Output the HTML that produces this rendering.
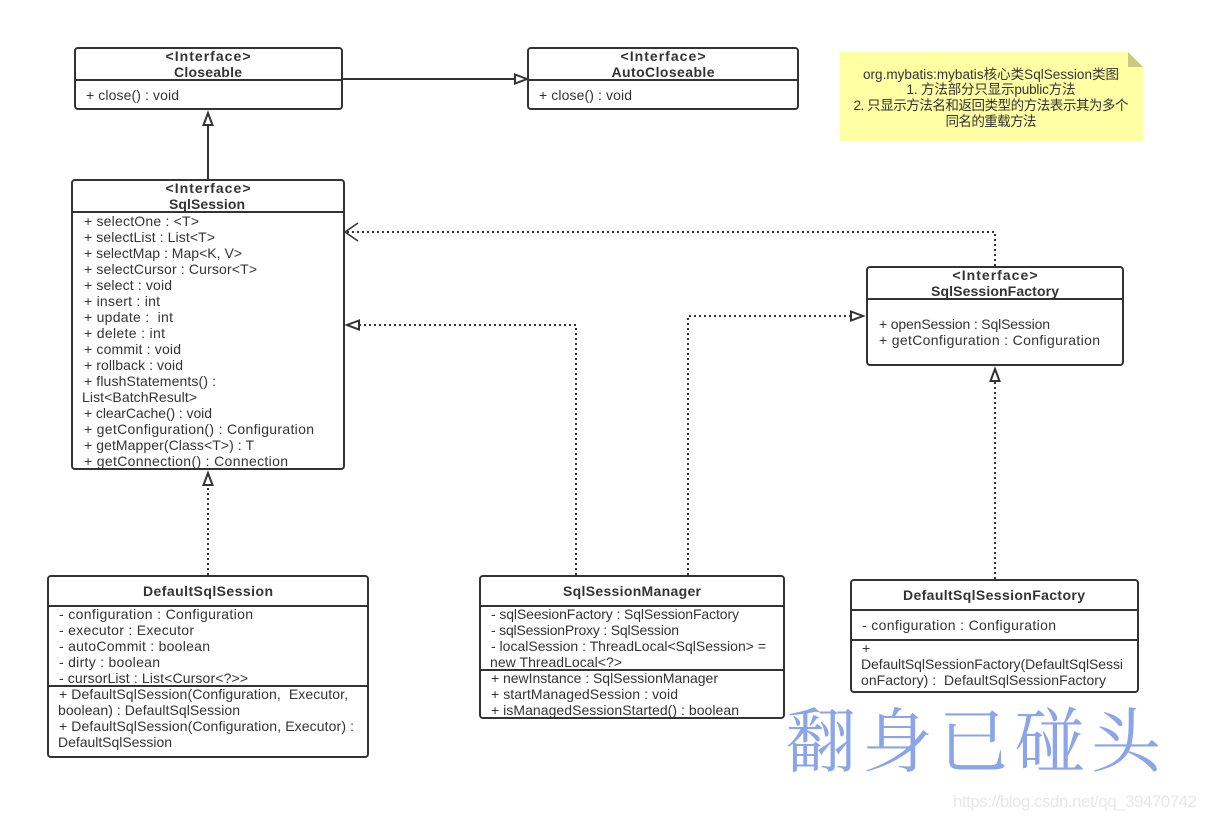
<!DOCTYPE html>
<html><head><meta charset="utf-8"><style>
html,body{margin:0;padding:0;background:#fff;width:1206px;height:819px;overflow:hidden}
svg{display:block}
text{font-family:"Liberation Sans","Noto Sans CJK SC",sans-serif;fill:#333;font-size:14px}
.t{font-weight:bold;font-size:14px;text-anchor:middle}
.b{fill:#fff;stroke:#333;stroke-width:2}
.l{stroke:#333;stroke-width:2;fill:none}
.d{stroke:#333;stroke-width:2;fill:none;stroke-dasharray:2 3}
.a{stroke:#333;stroke-width:2;fill:#fff}
.n{font-size:13.5px;fill:#333;text-anchor:middle}
</style></head><body>
<svg width="1206" height="819" viewBox="0 0 1206 819" xmlns="http://www.w3.org/2000/svg">
<!-- connectors -->
<path class="l" d="M342 79H516"/><path class="a" d="M515 74.500L527 79L515 83.500Z"/>
<path class="l" d="M208 180V125"/><path class="a" d="M203.500 125L208 113L212.500 125Z"/>
<path class="d" d="M208 575V487"/><path class="a" d="M203.500 485L208 473L212.500 485Z"/>
<path class="d" d="M995 266V232H347"/><path class="l" d="M358 223L345 232L358 241" style="stroke-width:1.600"/>
<path class="d" d="M576 575V325H360"/><path class="a" d="M359 320.500L347 325L359 329.500Z"/>
<path class="d" d="M688 575V316H850"/><path class="a" d="M851 311.500L863 316L851 320.500Z"/>
<path class="d" d="M995 579V382"/><path class="a" d="M990.500 381L995 369L999.500 381Z"/>
<!-- Closeable -->
<rect class="b" x="75" y="48" width="267" height="61" rx="3"/><path class="l" d="M75 80H342"/>
<text class="t" x="208" y="61" textLength="85">&lt;Interface&gt;</text>
<text class="t" x="208" y="77" textLength="68">Closeable</text>
<text x="86" y="100" textLength="93">+ close() : void</text>
<!-- AutoCloseable -->
<rect class="b" x="528" y="48" width="270" height="61" rx="3"/><path class="l" d="M528 80H798"/>
<text class="t" x="663" y="61" textLength="85">&lt;Interface&gt;</text>
<text class="t" x="663" y="77" textLength="103">AutoCloseable</text>
<text x="539" y="100" textLength="93">+ close() : void</text>
<!-- Note -->
<path d="M840 52H1128L1143 67V141H840Z" fill="#ffffa3"/><path d="M1128 52L1143 67H1128Z" fill="#c9c97c"/>
<text class="n" x="991" y="79" textLength="256">org.mybatis:mybatis核心类SqlSession类图</text>
<text class="n" x="991" y="94" textLength="169">1. 方法部分只显示public方法</text>
<text class="n" x="991" y="110" textLength="275">2. 只显示方法名和返回类型的方法表示其为多个</text>
<text class="n" x="991" y="126" textLength="91">同名的重载方法</text>
<!-- SqlSession -->
<rect class="b" x="72" y="180" width="272" height="289" rx="3"/><path class="l" d="M72 212H344"/>
<text class="t" x="208" y="193" textLength="85">&lt;Interface&gt;</text>
<text class="t" x="207" y="209" textLength="76">SqlSession</text>
<text x="84" y="226" textLength="115">+ selectOne : &lt;T&gt;</text>
<text x="84" y="242" textLength="131">+ selectList : List&lt;T&gt;</text>
<text x="84" y="258" textLength="158">+ selectMap : Map&lt;K, V&gt;</text>
<text x="84" y="274" textLength="173">+ selectCursor : Cursor&lt;T&gt;</text>
<text x="84" y="290" textLength="88">+ select : void</text>
<text x="84" y="306" textLength="76">+ insert : int</text>
<text x="84" y="322" textLength="89" xml:space="preserve">+ update :  int</text>
<text x="84" y="338" textLength="81">+ delete : int</text>
<text x="84" y="354" textLength="97">+ commit : void</text>
<text x="84" y="370" textLength="99">+ rollback : void</text>
<text x="84" y="386" textLength="132">+ flushStatements() :</text>
<text x="82" y="402" textLength="115">List&lt;BatchResult&gt;</text>
<text x="84" y="418" textLength="128">+ clearCache() : void</text>
<text x="84" y="434" textLength="230">+ getConfiguration() : Configuration</text>
<text x="84" y="450" textLength="170">+ getMapper(Class&lt;T&gt;) : T</text>
<text x="84" y="466" textLength="204">+ getConnection() : Connection</text>
<!-- SqlSessionFactory -->
<rect class="b" x="867" y="267" width="256" height="98" rx="3"/><path class="l" d="M867 299H1123"/>
<text class="t" x="995" y="280" textLength="85">&lt;Interface&gt;</text>
<text class="t" x="995" y="296" textLength="128">SqlSessionFactory</text>
<text x="879" y="329" textLength="171">+ openSession : SqlSession</text>
<text x="879" y="345" textLength="221">+ getConfiguration : Configuration</text>
<!-- DefaultSqlSession -->
<rect class="b" x="48" y="576" width="320" height="181" rx="3"/><path class="l" d="M48 606H368M48 686H368"/>
<text class="t" x="208" y="596" textLength="130">DefaultSqlSession</text>
<text x="59" y="619" textLength="194">- configuration : Configuration</text>
<text x="59" y="635" textLength="135">- executor : Executor</text>
<text x="59" y="651" textLength="151">- autoCommit : boolean</text>
<text x="59" y="667" textLength="101">- dirty : boolean</text>
<text x="59" y="683" textLength="189">- cursorList : List&lt;Cursor&lt;?&gt;&gt;</text>
<text x="59" y="699" textLength="289" xml:space="preserve">+ DefaultSqlSession(Configuration,  Executor,</text>
<text x="58" y="715" textLength="182">boolean) : DefaultSqlSession</text>
<text x="59" y="731" textLength="295">+ DefaultSqlSession(Configuration, Executor) :</text>
<text x="58" y="747" textLength="114">DefaultSqlSession</text>
<!-- SqlSessionManager -->
<rect class="b" x="480" y="576" width="304" height="142" rx="3"/><path class="l" d="M480 606H784M480 670H784"/>
<text class="t" x="632" y="596" textLength="138">SqlSessionManager</text>
<text x="491" y="619" textLength="248">- sqlSeesionFactory : SqlSessionFactory</text>
<text x="491" y="635" textLength="188">- sqlSessionProxy : SqlSession</text>
<text x="491" y="651" textLength="275">- localSession : ThreadLocal&lt;SqlSession&gt; =</text>
<text x="490" y="667" textLength="132">new ThreadLocal&lt;?&gt;</text>
<text x="491" y="683" textLength="227">+ newInstance : SqlSessionManager</text>
<text x="491" y="699" textLength="187">+ startManagedSession : void</text>
<text x="491" y="715" textLength="248">+ isManagedSessionStarted() : boolean</text>
<!-- DefaultSqlSessionFactory -->
<rect class="b" x="851" y="580" width="287" height="112" rx="3"/><path class="l" d="M851 610H1138M851 640H1138"/>
<text class="t" x="994" y="600" textLength="182">DefaultSqlSessionFactory</text>
<text x="862" y="630" textLength="194">- configuration : Configuration</text>
<text x="862" y="653" textLength="9">+</text>
<text x="861" y="669" textLength="262">DefaultSqlSessionFactory(DefaultSqlSessi</text>
<text x="861" y="685" textLength="245" xml:space="preserve">onFactory) :  DefaultSqlSessionFactory</text>
<!-- watermarks -->
<text x="786" y="766" textLength="375" style="font-family:'Liberation Serif','Noto Serif CJK SC',serif;font-size:70px;fill:#8ba5e8">翻身已碰头</text>
<text x="953" y="807" textLength="244" style="font-size:17px;fill:#e8e8e8">https://blog.csdn.net/qq_39470742</text>
</svg>
</body></html>
